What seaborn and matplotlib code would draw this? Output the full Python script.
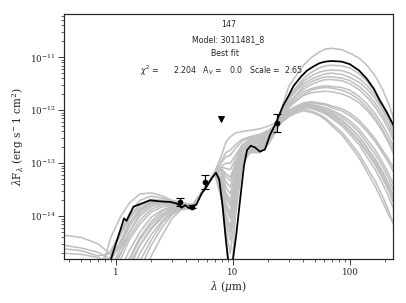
import numpy as np
import pandas as pd
import matplotlib
matplotlib.use("Agg")
import matplotlib.pyplot as plt
import matplotlib.ticker as mticker
import seaborn as sns

# -- Data -----------------------------------------------------------------------
# shared wavelength grid (micron) for the grey model SEDs
grid_wave = [0.36, 0.5, 0.7, 0.9, 1.1, 1.3, 1.6, 2.0, 2.5, 3.0,
             3.6, 4.5, 5.8, 7.0, 8.0, 8.7, 9.5, 10.5, 12, 14, 17, 20, 24,
             30, 35, 40, 47, 55, 62, 70, 85, 100, 120, 140, 165, 190, 215, 240]

# log10(lambda F_lambda) of the other good-fit models
grey_01 = [-15.5, -15.5, -15.3, -14.4, -14.0, -13.75, -13.58, -13.56, -13.62, -13.70,
           -13.74, -13.78, -13.45, -13.15, -12.85, -12.6, -12.5, -12.43, -12.4, -12.38, -12.35, -12.3, -12.22,
           -11.55, -11.33, -11.15, -11.0, -10.9, -10.84, -10.83, -10.855, -10.92, -11.015, -11.15, -11.355, -11.6, -11.88, -12.2]
grey_02 = [-14.36, -14.40, -14.52, -14.72, -14.5, -14.15, -13.85, -13.72, -13.72, -13.76,
           -13.82, -13.83, -13.46, -13.2, -13.35, -13.75, -13.94, -13.4, -12.9, -12.72, -12.7, -12.55, -12.3,
           -12.0, -11.93, -11.88, -11.86, -11.88, -11.9, -11.95, -12.01, -12.1, -12.24, -12.4, -12.59, -12.8, -12.99, -13.2]
grey_03 = [-14.62, -14.65, -14.75, -14.7, -14.35, -14.05, -13.8, -13.7, -13.72, -13.76,
           -13.82, -13.82, -13.45, -13.18, -13.15, -13.35, -13.45, -13.1, -12.78, -12.65, -12.6, -12.48, -12.3,
           -12.05, -11.98, -11.93, -11.93, -11.97, -12.01, -12.08, -12.19, -12.32, -12.5, -12.7, -12.92, -13.15, -13.39, -13.65]
grey_04 = [-15.5, -15.5, -14.9, -14.65, -14.3, -14.0, -13.78, -13.68, -13.7, -13.74,
           -13.78, -13.8, -13.45, -13.18, -12.95, -12.8, -12.75, -12.65, -12.55, -12.5, -12.45, -12.38, -12.25,
           -11.75, -11.56, -11.4, -11.28, -11.2, -11.16, -11.15, -11.16, -11.2, -11.31, -11.45, -11.66, -11.9, -12.11, -12.35]
grey_05 = [-15.5, -15.5, -15.5, -15.0, -14.6, -14.3, -14.0, -13.82, -13.75, -13.76,
           -13.82, -13.83, -13.47, -13.2, -13.45, -13.95, -14.2, -13.55, -12.95, -12.78, -12.78, -12.6, -12.32,
           -11.8, -11.63, -11.5, -11.41, -11.35, -11.31, -11.3, -11.32, -11.38, -11.47, -11.6, -11.78, -12.0, -12.21, -12.45]
grey_06 = [-15.5, -15.5, -15.5, -15.2, -14.8, -14.45, -14.15, -13.92, -13.82, -13.8,
           -13.8, -13.82, -13.48, -13.2, -13.05, -13.0, -13.0, -12.85, -12.65, -12.55, -12.5, -12.42, -12.27,
           -12.02, -11.95, -11.9, -11.89, -11.92, -11.95, -12.0, -12.09, -12.2, -12.36, -12.55, -12.75, -12.98, -13.2, -13.45]
grey_07 = [-15.5, -15.5, -15.5, -15.5, -15.0, -14.65, -14.3, -14.02, -13.88, -13.82,
           -13.84, -13.83, -13.46, -13.2, -13.55, -14.1, -14.45, -13.7, -13.0, -12.8, -12.8, -12.62, -12.33,
           -11.85, -11.71, -11.6, -11.51, -11.45, -11.42, -11.42, -11.44, -11.5, -11.61, -11.75, -11.94, -12.15, -12.36, -12.6]
grey_08 = [-15.5, -15.5, -15.5, -15.5, -15.5, -14.82, -14.45, -14.15, -13.95, -13.86,
           -13.82, -13.83, -13.47, -13.2, -13.1, -13.2, -13.26, -13.0, -12.72, -12.6, -12.55, -12.45, -12.28,
           -12.08, -12.0, -11.95, -11.97, -12.02, -12.07, -12.15, -12.29, -12.45, -12.65, -12.88, -13.12, -13.38, -13.63, -13.9]
grey_09 = [-15.5, -15.5, -15.5, -15.5, -15.5, -15.2, -14.7, -14.35, -14.08, -13.92,
           -13.85, -13.84, -13.47, -13.2, -13.7, -14.4, -15.5, -14.0, -13.05, -12.75, -12.8, -12.65, -12.35,
           -11.9, -11.76, -11.65, -11.59, -11.55, -11.54, -11.55, -11.57, -11.62, -11.74, -11.88, -12.07, -12.28, -12.49, -12.72]
grey_10 = [-15.5, -15.5, -15.5, -15.5, -15.5, -15.5, -15.0, -14.55, -14.2, -13.98,
           -13.86, -13.83, -13.46, -13.2, -13.25, -13.55, -13.7, -13.25, -12.85, -12.7, -12.65, -12.5, -12.3,
           -12.1, -12.03, -11.98, -12.02, -12.08, -12.15, -12.25, -12.41, -12.6, -12.83, -13.08, -13.34, -13.62, -13.9, -14.2]
grey_11 = [-15.5, -15.5, -15.5, -14.85, -14.45, -14.12, -13.88, -13.75, -13.74, -13.76,
           -13.8, -13.82, -13.46, -13.19, -13.2, -13.45, -13.58, -13.18, -12.8, -12.66, -12.62, -12.48, -12.29,
           -11.92, -11.81, -11.72, -11.67, -11.65, -11.64, -11.65, -11.69, -11.75, -11.86, -12.0, -12.19, -12.4, -12.62, -12.85]
grey_12 = [-15.5, -15.5, -15.5, -15.5, -15.2, -14.8, -14.4, -14.1, -13.9, -13.84,
           -13.83, -13.83, -13.46, -13.2, -13.3, -13.65, -13.82, -13.32, -12.88, -12.7, -12.68, -12.52, -12.3,
           -12.03, -11.96, -11.91, -11.91, -11.94, -11.98, -12.03, -12.13, -12.25, -12.42, -12.62, -12.83, -13.05, -13.29, -13.55]
grey_13 = [-14.7, -14.72, -14.78, -14.9, -14.7, -14.3, -13.95, -13.78, -13.74, -13.77,
           -13.82, -13.83, -13.47, -13.2, -13.4, -13.85, -14.05, -13.48, -12.92, -12.75, -12.74, -12.58, -12.31,
           -12.06, -12.0, -11.95, -11.96, -12.0, -12.05, -12.12, -12.25, -12.4, -12.59, -12.8, -13.03, -13.28, -13.52, -13.78]
grey_14 = [-15.5, -15.5, -15.5, -15.5, -15.5, -15.0, -14.55, -14.25, -14.02, -13.9,
           -13.84, -13.83, -13.47, -13.19, -13.07, -13.1, -13.12, -12.92, -12.68, -12.57, -12.52, -12.44, -12.27,
           -11.88, -11.7, -11.55, -11.46, -11.4, -11.37, -11.37, -11.39, -11.44, -11.55, -11.68, -11.87, -12.08, -12.29, -12.52]
grey_15 = [-15.5, -15.5, -15.5, -15.5, -15.3, -14.9, -14.55, -14.22, -13.98, -13.88,
           -13.84, -13.84, -13.47, -13.2, -13.5, -14.0, -14.3, -13.62, -12.98, -12.79, -12.79, -12.61, -12.32,
           -12.07, -11.99, -11.94, -11.95, -11.99, -12.04, -12.1, -12.23, -12.38, -12.57, -12.78, -13.0, -13.25, -13.49, -13.75]
grey_16 = [-15.5, -15.5, -15.3, -14.75, -14.3, -13.95, -13.7, -13.62, -13.66, -13.72,
           -13.78, -13.8, -13.45, -13.17, -12.98, -12.88, -12.85, -12.72, -12.58, -12.52, -12.47, -12.4, -12.26,
           -12.0, -11.92, -11.86, -11.84, -11.86, -11.88, -11.92, -11.97, -12.05, -12.19, -12.35, -12.54, -12.75, -12.93, -13.12]
grey_17 = [-15.5, -15.5, -15.5, -15.1, -14.7, -14.38, -14.08, -13.87, -13.78, -13.78,
           -13.81, -13.82, -13.46, -13.19, -13.12, -13.25, -13.33, -13.05, -12.74, -12.62, -12.57, -12.46, -12.28,
           -11.78, -11.6, -11.45, -11.35, -11.28, -11.25, -11.24, -11.25, -11.3, -11.4, -11.53, -11.72, -11.95, -12.17, -12.4]
grey_18 = [-14.55, -14.6, -14.68, -14.82, -14.55, -14.2, -13.9, -13.75, -13.73, -13.77,
           -13.83, -13.83, -13.47, -13.2, -13.28, -13.6, -13.78, -13.3, -12.87, -12.71, -12.67, -12.52, -12.3,
           -12.12, -12.05, -12.01, -12.04, -12.1, -12.18, -12.29, -12.46, -12.66, -12.9, -13.16, -13.44, -13.72, -13.98, -14.17]
grey_19 = [-15.5, -15.5, -15.5, -15.5, -15.5, -15.3, -14.85, -14.45, -14.12, -13.95,
           -13.85, -13.84, -13.47, -13.2, -13.62, -14.25, -14.7, -13.85, -13.02, -12.77, -12.79, -12.63, -12.34,
           -11.95, -11.82, -11.7, -11.62, -11.58, -11.57, -11.58, -11.62, -11.68, -11.8, -11.95, -12.14, -12.36, -12.58, -12.8]
grey_20 = [-15.5, -15.5, -15.5, -15.5, -15.5, -15.5, -15.3, -14.75, -14.35, -14.05,
           -13.88, -13.85, -13.47, -13.2, -13.38, -13.8, -14.0, -13.45, -12.9, -12.74, -12.72, -12.56, -12.31,
           -12.04, -11.97, -11.92, -11.92, -11.95, -12.0, -12.06, -12.18, -12.32, -12.5, -12.72, -12.95, -13.2, -13.45, -13.7]
grey_models = [grey_01, grey_02, grey_03, grey_04, grey_05, grey_06, grey_07, grey_08, grey_09, grey_10,
               grey_11, grey_12, grey_13, grey_14, grey_15, grey_16, grey_17, grey_18, grey_19, grey_20]

# best fit model
bf_wave = [0.85, 0.906, 1.0, 1.1, 1.17, 1.23, 1.41, 1.66, 1.95, 2.38, 2.9, 3.3, 3.64,
           3.9, 4.15, 4.52, 4.9, 5.4, 5.96, 6.6, 7.16, 7.64, 8.17, 8.7, 9.1, 9.5, 10.0,
           10.7, 11.5, 12.4, 13.2, 14.2, 15.4, 17.0, 18.8, 20.7, 23.3, 26.9, 30, 33, 38,
           43, 49, 55, 62, 70, 85, 100, 120, 139, 160, 180, 205, 232, 240]
bf_logf = [-15.3, -14.81, -14.51, -14.23, -14.04, -14.09, -13.82, -13.76, -13.70, -13.72,
           -13.73, -13.76, -13.84, -13.79, -13.84, -13.82, -13.77, -13.57, -13.44, -13.28,
           -13.18, -13.31, -13.82, -14.45, -14.82, -15.5, -14.82, -14.33, -13.70, -13.06,
           -12.75, -12.67, -12.70, -12.78, -12.74, -12.47, -12.24, -11.91, -11.72, -11.54,
           -11.37, -11.25, -11.17, -11.11, -11.08, -11.07, -11.08, -11.13, -11.25, -11.40,
           -11.59, -11.81, -12.02, -12.25, -12.32]

# photometry
phot_wave = [3.55, 4.5, 5.76, 23.7]
phot_flux = [1.86e-14, 1.52e-14, 4.4e-14, 5.8e-13]
phot_lo = [1.55e-14, 1.45e-14, 3.3e-14, 3.9e-13]
phot_hi = [2.25e-14, 1.60e-14, 5.9e-14, 8.5e-13]
ulim_wave = [7.9]
ulim_flux = [6.8e-13]

source_id = "147"
model_name = "3011481_8"
chi2, av, scale = 2.204, 0.0, 2.65

# -- Style ----------------------------------------------------------------------
sns.set_style("ticks")
plt.rcParams["font.family"] = ["DejaVu Serif"]
plt.rcParams["mathtext.fontset"] = "dejavuserif"

DPI = 63.125
fig, ax = plt.subplots(figsize=(406 / DPI, 303 / DPI), dpi=DPI)
fig.subplots_adjust(left=0.158, right=0.967, bottom=0.145, top=0.954)

# -- Models ---------------------------------------------------------------------
rows = []
for i, m in enumerate(grey_models):
    for w, lf in zip(grid_wave, m):
        rows.append({"model": i, "wave": w, "flux": 10.0 ** lf})
grey_df = pd.DataFrame(rows)
bf_df = pd.DataFrame({"wave": bf_wave, "flux": np.power(10.0, bf_logf)})

sns.lineplot(data=grey_df, x="wave", y="flux", units="model", estimator=None,
             color="#c0c0c0", lw=1.8, sort=False, ax=ax)
sns.lineplot(data=bf_df, x="wave", y="flux", color="black", lw=2.0,
             sort=False, ax=ax)

# -- Photometry -----------------------------------------------------------------
yerr = [np.array(phot_flux) - np.array(phot_lo), np.array(phot_hi) - np.array(phot_flux)]
ax.errorbar(phot_wave, phot_flux, yerr=yerr, fmt="o", color="black", ms=5.5,
            capsize=4, elinewidth=1.3, capthick=1.3, zorder=5)
ax.plot(ulim_wave, ulim_flux, "v", color="black", ms=6, zorder=5)

ax.set_xscale("log")
ax.set_yscale("log")
ax.set_xlim(0.36, 232)
ax.set_ylim(1.55e-15, 6.6e-11)
ax.xaxis.set_major_locator(mticker.FixedLocator([1, 10, 100]))
ax.xaxis.set_major_formatter(mticker.FuncFormatter(lambda v, p: f"{v:g}"))
ax.xaxis.set_minor_formatter(mticker.NullFormatter())
ax.yaxis.set_major_locator(mticker.FixedLocator([1e-14, 1e-13, 1e-12, 1e-11]))
ax.yaxis.set_minor_locator(mticker.LogLocator(base=10, subs=np.arange(2, 10), numticks=20))
ax.yaxis.set_minor_formatter(mticker.NullFormatter())

ax.set_xlabel(r"$\lambda$ ($\mu$m)", fontsize=12, labelpad=2)
ax.set_ylabel(r"$\lambda$F$_\lambda$ (erg s$^-$1 cm$^2$)", fontsize=12, labelpad=4)

ax.tick_params(which="major", length=6.5, width=1.0, direction="out", labelsize=10)
ax.tick_params(which="minor", length=3.5, width=0.8, direction="out")
for s in ax.spines.values():
    s.set_linewidth(1.4)
    s.set_visible(True)

# -- Annotations ----------------------------------------------------------------
txt = dict(transform=ax.transAxes, ha="center", va="center", fontsize=9,
           family="DejaVu Sans", math_fontfamily="dejavusans")
ax.text(0.5, 0.957, source_id, **txt)
ax.text(0.5, 0.894, f"Model: {model_name}", **txt)
ax.text(0.49, 0.838, "Best fit", **txt)
ax.text(0.48, 0.767, r"$\chi^2$ =      " + f"{chi2:.3f}   A$_V$ =   {av:.1f}   Scale =  {scale:.2f}", **txt)

fig.savefig("out.png", dpi=DPI)
